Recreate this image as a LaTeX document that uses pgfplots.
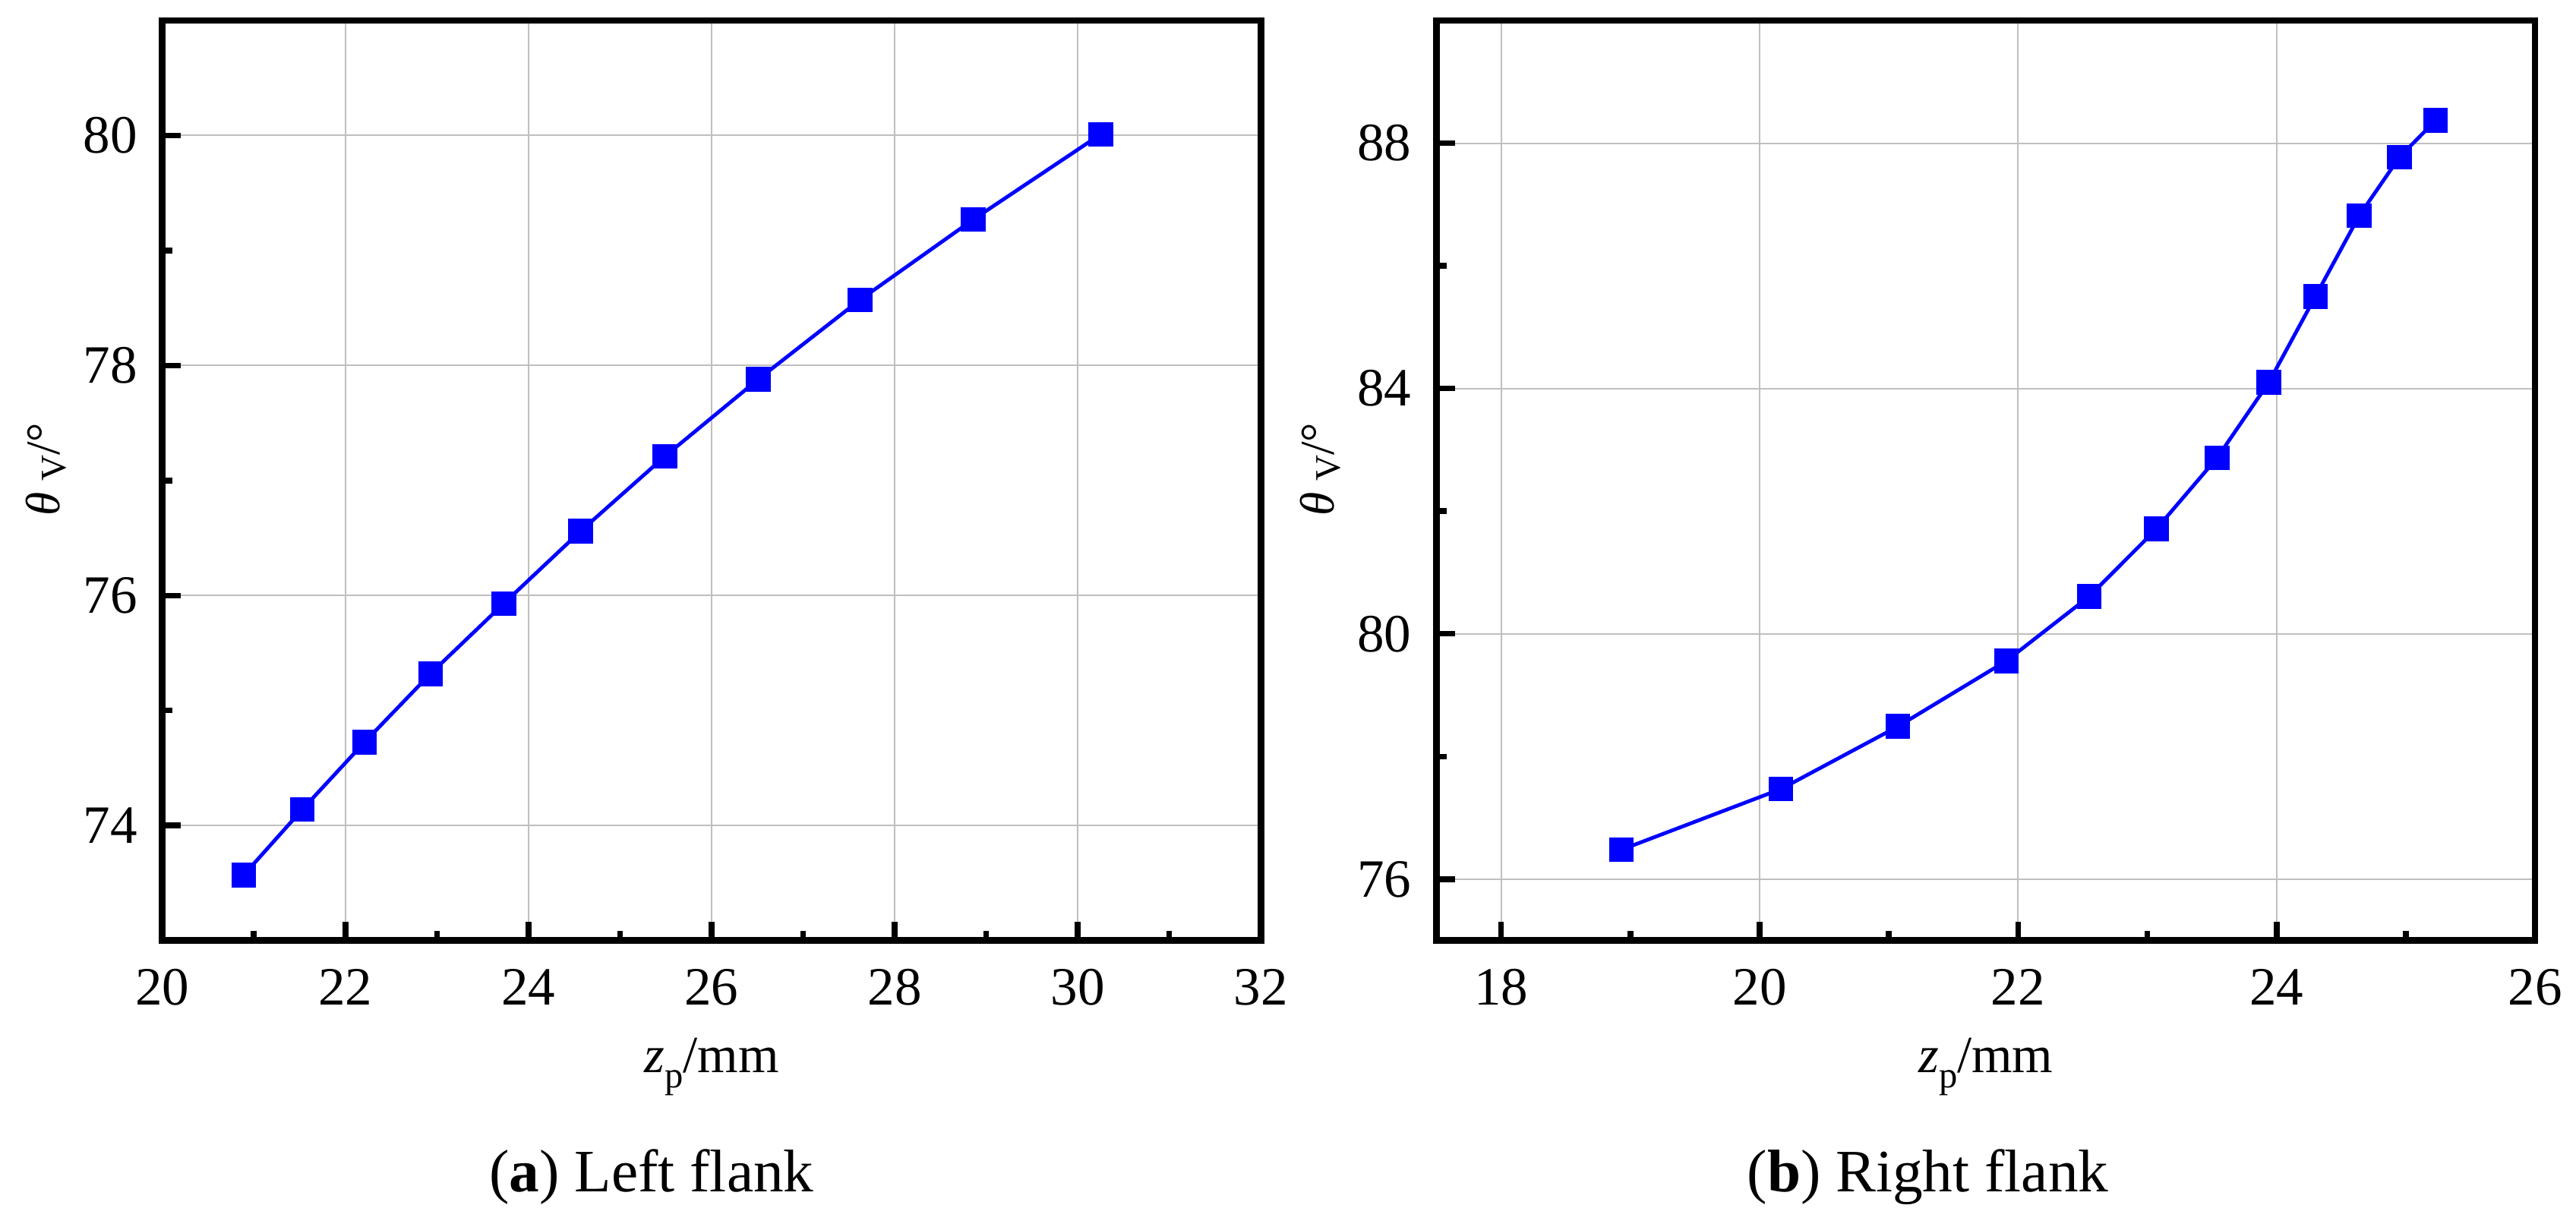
\documentclass[border=0pt]{standalone}
\usepackage{fontspec}
\setmainfont{Liberation Serif}
\usepackage{pgfplots}
\pgfplotsset{compat=1.18}
\begin{document}
\begin{tikzpicture}[font=\fontsize{9.5}{11}\selectfont]
\useasboundingbox (0,0) rectangle (453.5pt,215.4pt);
\pgfplotsset{
  myax/.style={
    scale only axis, width=193.4pt, height=162.0pt,
    anchor=south west,
    axis line style={line width=1.16pt},
    tick align=inside,
    xtick pos=left, ytick pos=left,
    major tick length=3.3pt, minor tick length=1.75pt,
    every tick/.style={black, line width=1.0pt},
    minor tick num=1,
    grid=major,
    major grid style={gray!50, line width=0.27pt},
    /pgf/number format/assume math mode=true,
    tick label style={font=\fontsize{9.5}{11}\selectfont},
    xticklabel style={anchor=base, yshift=-11.4pt},
    yticklabel style={xshift=-0.9pt},
    xlabel style={at={(axis description cs:0.5,-0.1437)}, anchor=base},
    ylabel style={at={(axis description cs:-0.106,0.512)}, anchor=center},
    xlabel={\fontsize{9.2}{11}\selectfont\textit{z}\raisebox{-2.6pt}{\fontsize{6.5}{7}\selectfont p}/mm},
    ylabel={\fontsize{8.5}{10}\selectfont\textit{θ}\hspace{2pt}\raisebox{-1.1pt}{\fontsize{6.3}{7}\selectfont V}/°},
  },
  myplot/.style={blue, line width=0.65pt, mark=square*, mark size=1.85pt, mark options={solid, fill=blue}},
}
\begin{axis}[myax, at={(28.57pt,49.8pt)}, xmin=20, xmax=32, ymin=73, ymax=81,
  xtick={20,22,...,32}, ytick={74,76,78,80}]
\addplot[myplot] coordinates {
(20.89,73.57) (21.53,74.14) (22.21,74.725) (22.93,75.32) (23.73,75.93)
(24.57,76.56) (25.49,77.21) (26.51,77.88) (27.62,78.57) (28.86,79.27) (30.25,80.01)
};
\end{axis}
\begin{axis}[myax, at={(252.9pt,49.8pt)}, xmin=17.5, xmax=26, ymin=75, ymax=90,
  xtick={18,20,...,26}, ytick={76,80,84,88}]
\addplot[myplot] coordinates {
(18.93,76.48) (20.165,77.47) (21.07,78.49) (21.91,79.56) (22.55,80.61)
(23.07,81.71) (23.54,82.87) (23.94,84.10) (24.30,85.50) (24.64,86.82)
(24.95,87.77) (25.23,88.37)
};
\end{axis}
\node[anchor=base, font=\fontsize{10.6}{12}\selectfont] at (114.7pt,5.5pt) {(\textbf{a}) Left flank};
\node[anchor=base, font=\fontsize{10.6}{12}\selectfont] at (339.4pt,5.5pt) {(\textbf{b}) Right flank};
\end{tikzpicture}
\end{document}
